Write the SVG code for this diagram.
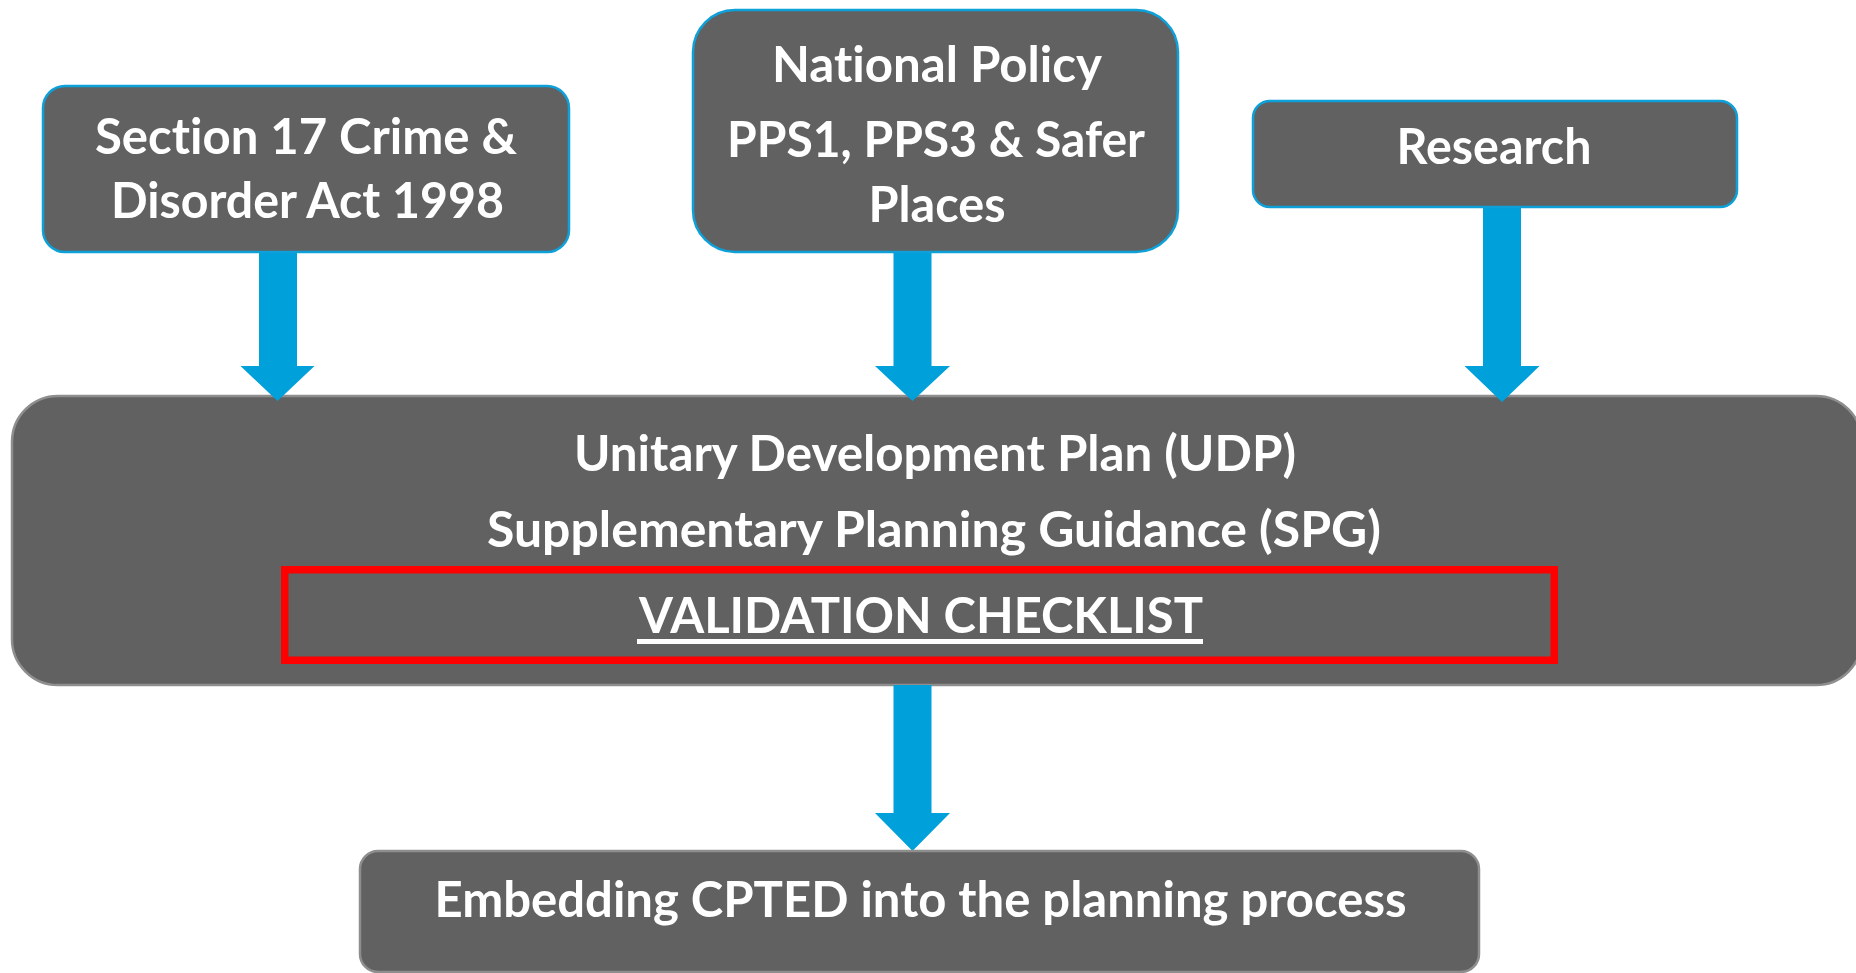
<svg xmlns="http://www.w3.org/2000/svg" width="1856" height="973" viewBox="0 0 1856 973">
  <style>
    .box { fill: #616161; }
    .blueedge { stroke: #0EA0D8; stroke-width: 2.5; }
    .grayedge { stroke: #8E8E8E; stroke-width: 2.5; }
    .t { font-family: Lato, "Open Sans", "Liberation Sans", sans-serif; font-weight: bold; font-size: 49px; fill: #FFFFFF; text-anchor: middle; font-variant-ligatures: none; font-feature-settings: "liga" 0, "clig" 0; }
    .arrow { fill: #00A0DA; }
  </style>
  <rect width="1856" height="973" fill="#FFFFFF"/>

  <g id="node-udp">
    <rect class="box grayedge" x="12" y="396" width="1850" height="289" rx="46" ry="46"/>
    <text class="t" x="935" y="471" textLength="722" lengthAdjust="spacingAndGlyphs">Unitary Development Plan (UDP)</text>
    <text class="t" x="934" y="547" textLength="894" lengthAdjust="spacingAndGlyphs">Supplementary Planning Guidance (SPG)</text>
    <rect x="284.75" y="569.75" width="1269.5" height="90.5" fill="none" stroke="#FF0000" stroke-width="7.5"/>
    <text class="t" x="921" y="633" textLength="564" lengthAdjust="spacingAndGlyphs">VALIDATION CHECKLIST</text>
    <rect x="637" y="639" width="566" height="5" fill="#FFFFFF"/>
  </g>

  <g id="connectors">
    <path id="arrow-s17" class="arrow" d="M259,252 H297 V366 H314.5 L277.5,401 L240.5,366 H259 Z"/>
    <path id="arrow-national" class="arrow" d="M893.5,252 H931.5 V366 H950 L912.5,401 L875,366 H893.5 Z"/>
    <path id="arrow-research" class="arrow" d="M1483,207 H1521 V366 H1539.5 L1502,402 L1464.5,366 H1483 Z"/>
    <path id="arrow-embed" class="arrow" d="M893.5,685 H931.5 V813 H950 L912.5,851 L875,813 H893.5 Z"/>
  </g>

  <g id="node-section17">
    <rect class="box blueedge" x="43" y="86" width="526" height="166" rx="22" ry="22"/>
    <text class="t" x="306" y="154" textLength="422" lengthAdjust="spacingAndGlyphs">Section 17 Crime &amp;</text>
    <text class="t" x="307.5" y="218" textLength="393" lengthAdjust="spacingAndGlyphs">Disorder Act 1998</text>
  </g>

  <g id="node-national">
    <rect class="box blueedge" x="693" y="10" width="485" height="242" rx="42" ry="42"/>
    <text class="t" x="937" y="82" textLength="330" lengthAdjust="spacingAndGlyphs">National Policy</text>
    <text class="t" x="936" y="157" textLength="418" lengthAdjust="spacingAndGlyphs">PPS1, PPS3 &amp; Safer</text>
    <text class="t" x="937" y="222" textLength="137" lengthAdjust="spacingAndGlyphs">Places</text>
  </g>

  <g id="node-research">
    <rect class="box blueedge" x="1253" y="101" width="484" height="106" rx="17" ry="17"/>
    <text class="t" x="1494" y="164" textLength="195" lengthAdjust="spacingAndGlyphs">Research</text>
  </g>

  <g id="node-embedding">
    <rect class="box grayedge" x="360" y="851" width="1119" height="121" rx="18" ry="18"/>
    <text class="t" x="920.5" y="917" textLength="972" lengthAdjust="spacingAndGlyphs">Embedding CPTED into the planning process</text>
  </g>
</svg>
